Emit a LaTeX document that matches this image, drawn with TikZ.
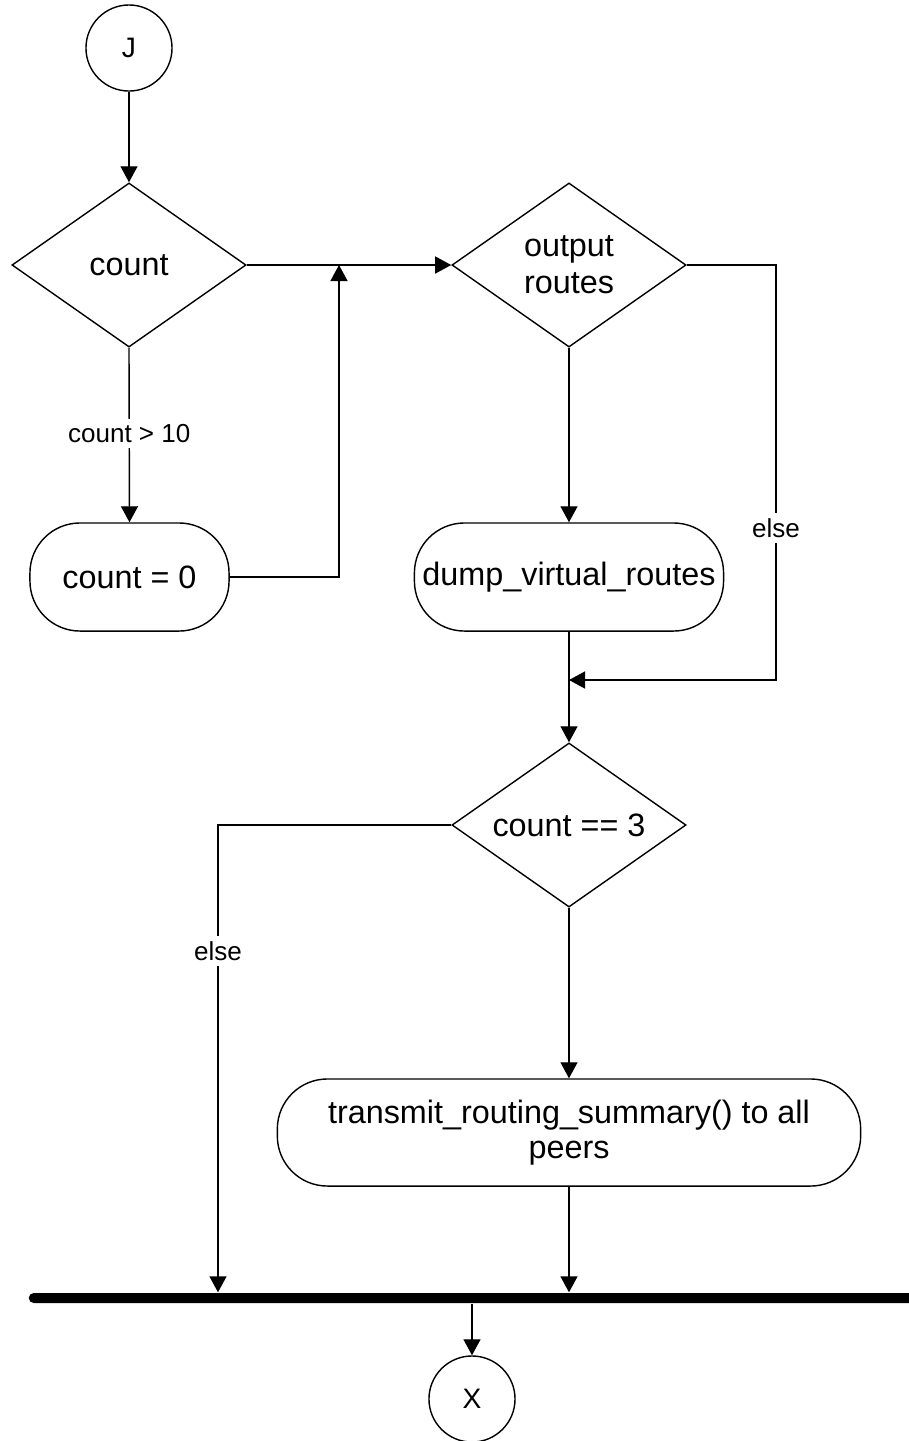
\documentclass[tikz,border=0pt]{standalone}
\usepackage{fontspec}
\setmainfont{Liberation Sans}
\usetikzlibrary{shapes.geometric,arrows.meta}
\tikzset{
  big/.style={font=\fontsize{9.2}{10.6}\selectfont},
  small/.style={font=\fontsize{7.4}{8.5}\selectfont},
  conn/.style={draw, circle, line width=0.4pt, minimum size=0.86cm, inner sep=0pt,
               font=\fontsize{8}{9}\selectfont},
  dec/.style={draw, diamond, aspect=1.43, line width=0.4pt, minimum width=2.34cm,
              minimum height=1.64cm, inner sep=0pt, align=center, big},
  act/.style={draw, rectangle, rounded corners=0.5cm, line width=0.4pt,
              minimum height=1.08cm, inner sep=0pt, align=center, big},
  arr/.style={draw, line width=0.4pt, -{Triangle[length=0.16cm,width=0.17cm]}},
  lbl/.style={fill=white, inner sep=1.5pt, small},
  bar/.style={fill=black, rectangle, rounded corners=0.05cm, minimum height=0.1cm,
              minimum width=8.86cm, inner sep=0pt}
}
\begin{document}
\begin{tikzpicture}[x=0.01cm, y=-0.01cm]
\useasboundingbox (0,0) rectangle (909,1441);

% nodes
\node[conn] (J) at (129,48) {J};
\node[dec] (c1) at (129,265) {count};
\node[act, minimum width=1.99cm] (c0) at (129.5,577) {count = 0};
\node[dec] (out) at (569,265) {output\\routes};
\node[act, minimum width=3.09cm] (dump) at (569,577) {dump\_virtual\_routes};
\node[dec] (c3) at (569,825) {count == 3};
\node[act, minimum width=5.83cm, minimum height=1.07cm,
      font=\fontsize{9.2}{10}\selectfont] (tx) at (569,1132.5)
      {transmit\_routing\_summary() to all\\peers};
\node[bar] (sync) at (472,1298) {};
\node[conn] (X) at (472,1399) {X};

% bend points
\coordinate (loopC) at (339,577);
\coordinate (eA) at (776,265);
\coordinate (eB) at (776,680);
\coordinate (elseX) at (218,825);

% connectors
\draw[arr] (J) -- (c1.north);
\draw[arr] (c1.south) -- node[lbl, pos=0.49] {count > 10} (c0.north);
\draw[arr] (c0.east) -- (loopC) -- (loopC |- c1.east);
\draw[arr] (c1.east) -- (out.west);
\draw[arr] (out.south) -- (dump.north);
\draw[arr] (out.east) -- (eA) -- node[lbl, pos=0.634] {else} (eB) -- (eB -| dump.south);
\draw[arr] (dump.south) -- (c3.north);
\draw[arr] (c3.south) -- (tx.north);
\draw[arr] (c3.west) -- (elseX) -- node[lbl, pos=0.27] {else} (elseX |- sync.north);
\draw[arr] (tx.south) -- (tx.south |- sync.north);
\draw[arr] (sync.south) -- (X.north);
\end{tikzpicture}
\end{document}
